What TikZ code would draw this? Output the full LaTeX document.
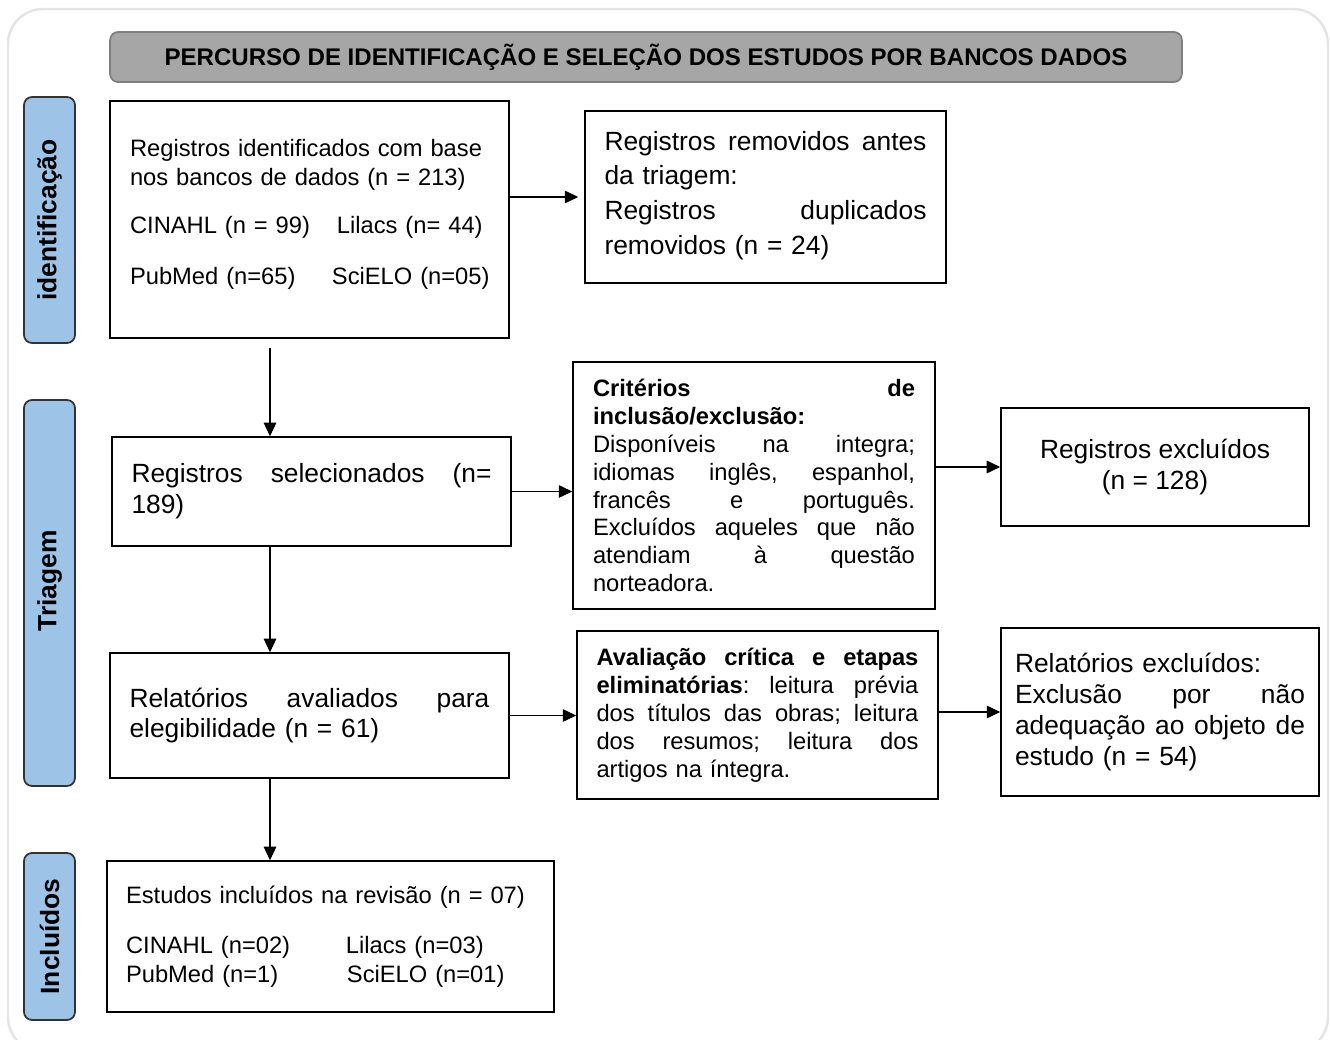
\documentclass[tikz,border=0pt]{standalone}
\usepackage{fontspec}
\setmainfont{Liberation Sans}
\usetikzlibrary{arrows.meta}

\definecolor{cinzaTitulo}{HTML}{A6A6A6}
\definecolor{cinzaBorda}{HTML}{7F7F7F}
\definecolor{azulFase}{HTML}{9DC3E6}
\definecolor{cinzaMoldura}{HTML}{E4E4E4}

\newcommand{\txtpeq}{\fontsize{13.5}{15.9}\selectfont}
\newcommand{\txtgde}{\fontsize{15}{17.6}\selectfont}

\tikzset{
  caixa/.style={draw, line width=0.9pt, inner ysep=0pt, align=left},
  fase/.style={draw=black!80, fill=azulFase, line width=1pt, rounded corners=0.16cm,
    rotate=90, minimum height=1.02cm, inner sep=0pt,
    font=\fontsize{15}{18}\selectfont\bfseries},
  seta/.style={line width=0.9pt, -{Triangle[length=2.7mm,width=2.5mm]}}
}

\begin{document}
\begin{tikzpicture}[x=0.02cm,y=-0.02cm]
\useasboundingbox (0,0) rectangle (1330,1040);
\clip (0,0) rectangle (1330,1040);

% Moldura
\draw[cinzaMoldura, line width=1.4pt, rounded corners=0.7cm] (8,9) rectangle (1328,1052);

% Titulo
\node[draw=cinzaBorda, fill=cinzaTitulo, line width=1pt, rounded corners=0.16cm,
  minimum width=21.44cm, minimum height=1cm,
  font=\fontsize{13.7}{16}\selectfont\bfseries] (titulo) at (646,57)
  {PERCURSO DE IDENTIFICAÇÃO E SELEÇÃO DOS ESTUDOS POR BANCOS DADOS};

% Fases
\node[fase, minimum width=4.92cm] (fIdent) at (49.5,220) {identificação};
\node[fase, minimum width=7.72cm] (fTriagem) at (49.5,593) {\hspace*{0.48cm}Triagem};
\node[fase, minimum width=3.34cm] (fIncl) at (49.5,936.5) {Incluídos};

% Caixas
\node[caixa, font=\fontsize{13.5}{17}\selectfont, text width=7.18cm, inner xsep=0.4cm,
  minimum height=4.74cm] (ident) at (309.5,219.5)
  {Registros identificados com base\\ nos bancos de dados (n = 213)\\[10pt]
   \mbox{\makebox[4.14cm][l]{CINAHL (n = 99)}Lilacs (n= 44)}\\[12pt]
   \mbox{\makebox[4.04cm][l]{PubMed (n=65)}SciELO (n=05)}\\[-8pt]\mbox{}};

\node[caixa, font=\fontsize{15}{19.8}\selectfont, text width=6.44cm, inner xsep=0.39cm,
  minimum height=3.44cm] (rem) at (765.5,197)
  {Registros\hfill removidos\hfill antes\\ da triagem:\\
   Registros\hfill duplicados\\ removidos (n = 24)\\[-15pt]\mbox{}};

\node[caixa, font=\txtgde, text width=7.2cm, inner xsep=0.39cm,
  minimum height=2.18cm] (sel) at (311.5,491.5)
  {Registros\hfill selecionados\hfill (n=\\ 189)};

\node[caixa, font=\txtpeq, text width=6.44cm, inner xsep=0.4cm,
  minimum height=4.94cm] (crit) at (754,485.5)
  {\textbf{Critérios}\hfill\textbf{de}\\
   \textbf{inclusão/exclusão:}\\
   Disponíveis\hfill na\hfill integra;\\
   idiomas\hfill inglês,\hfill espanhol,\\
   francês\hfill e\hfill português.\\
   Excluídos\hfill aqueles\hfill que\hfill não\\
   atendiam\hfill à\hfill questão\\
   norteadora.};

\node[caixa, font=\fontsize{15}{18}\selectfont, align=center, minimum width=6.16cm,
  minimum height=2.36cm] (excl) at (1155,467)
  {Registros excluídos\\(n = 128)};

\node[caixa, font=\txtgde, text width=7.2cm, inner xsep=0.39cm,
  minimum height=2.5cm] (elig) at (309.5,715.5)
  {Relatórios\hfill avaliados\hfill para\\ elegibilidade (n = 61)};

\node[caixa, font=\txtpeq, text width=6.44cm, inner xsep=0.39cm,
  minimum height=3.36cm] (aval) at (757.5,715)
  {\textbf{Avaliação}\hfill\textbf{crítica}\hfill\textbf{e}\hfill\textbf{etapas}\\
   \textbf{eliminatórias}:\hfill leitura\hfill prévia\\
   dos\hfill títulos\hfill das\hfill obras;\hfill leitura\\
   dos\hfill resumos;\hfill leitura\hfill dos\\
   artigos na íntegra.};

\node[caixa, font=\txtgde, text width=5.8cm, inner xsep=0.28cm,
  minimum height=3.36cm] (rep) at (1160,712)
  {Relatórios excluídos:\\ Exclusão\hfill por\hfill não\\
   adequação\hfill ao\hfill objeto\hfill de\\ estudo (n = 54)};

\node[caixa, font=\fontsize{13.5}{16.5}\selectfont, text width=8.18cm, inner xsep=0.38cm,
  minimum height=3.02cm] (incl) at (330.5,936.5)
  {Estudos incluídos na revisão (n = 07)\\[12pt]
   \makebox[4.4cm][l]{CINAHL (n=02)}Lilacs (n=03)\\
   \makebox[4.42cm][l]{PubMed (n=1)}SciELO (n=01)};

% Setas
\coordinate (col) at (270,0);
\draw[seta, shorten <=1.8mm] (col |- ident.south) -- (col |- sel.north);
\draw[seta] (col |- sel.south) -- (col |- elig.north);
\draw[seta] (col |- elig.south) -- (col |- incl.north);
\draw[seta, shorten >=1.2mm] (ident.east |- rem.west) -- (rem.west);
\draw[seta] (sel.east) -- (crit.west |- sel.east);
\draw[seta] (crit.east |- excl.west) -- (excl.west);
\draw[seta] (elig.east) -- (aval.west |- elig.east);
\draw[seta] (aval.east |- rep.west) -- (rep.west);

\end{tikzpicture}
\end{document}
